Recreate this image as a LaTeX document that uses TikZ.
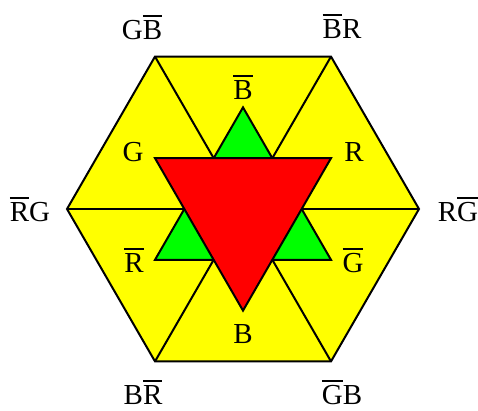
\documentclass[tikz,border=0pt]{standalone}
\usepackage{fontspec}
\setmainfont{Liberation Serif}
\usetikzlibrary{calc}
\definecolor{hexyellow}{RGB}{255,255,0}
\definecolor{stargreen}{RGB}{0,255,0}
\definecolor{starred}{RGB}{255,0,0}
\newcommand\barred[1]{\leavevmode\vbox{\hrule height 1.6pt\kern 4pt\hbox{#1}}}
\begin{document}
\begin{tikzpicture}[x=1pt,y=1pt,
  edge/.style={line width=2pt,line join=miter},
  lbl/.style={anchor=base,inner sep=0pt,font=\fontsize{29}{31}\selectfont}]
\useasboundingbox (0,0) rectangle (478,411);
\coordinate (c) at (243,202);
\foreach \a/\n in {0/h0,60/h1,120/h2,180/h3,240/h4,300/h5}
  \coordinate (\n) at ($(c)+(\a:176)$);
\foreach \a/\n in {90/g0,210/g1,330/g2}
  \coordinate (\n) at ($(c)+(\a:101.6)$);
\foreach \a/\n in {30/r0,150/r1,270/r2}
  \coordinate (\n) at ($(c)+(\a:101.6)$);
% hexagon
\filldraw[edge,fill=hexyellow] (h0) -- (h1) -- (h2) -- (h3) -- (h4) -- (h5) -- cycle;
\draw[edge] (h0) -- (h3);
\draw[edge] (h1) -- (h4);
\draw[edge] (h2) -- (h5);
% star
\filldraw[edge,fill=stargreen] (g0) -- (g1) -- (g2) -- cycle;
\filldraw[edge,fill=starred] (r0) -- (r1) -- (r2) -- cycle;
% outer labels
\node[lbl] (lgb) at (142,371) {G\barred{B}};
\node[lbl] (lbr) at (342,372) {\barred{B}R};
\node[lbl] (lrg) at (30,189) {\barred{R}G};
\node[lbl] (lrgb) at (458,189) {R\barred{G}};
\node[lbl] (lbrb) at (143,6) {B\barred{R}};
\node[lbl] (lgbb) at (342,6) {\barred{G}B};
% inner labels
\node[lbl] (ib) at (243,311) {\barred{B}};
\node[lbl] (ig) at (133,249) {G};
\node[lbl] (ir) at (354,249) {R};
\node[lbl] (irb) at (134,138) {\barred{R}};
\node[lbl] (igb) at (353,138) {\barred{G}};
\node[lbl] (ibb) at (243,67) {B};
\end{tikzpicture}
\end{document}
